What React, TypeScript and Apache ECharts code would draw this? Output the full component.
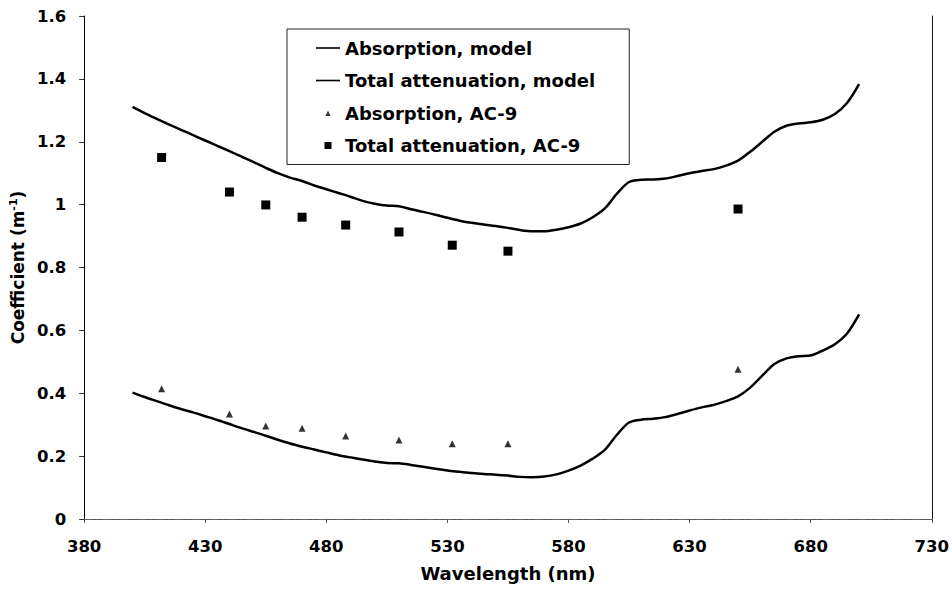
import React, { useEffect, useRef } from "react";
import * as echarts from "echarts";

const modelWavelengths = [
  400, 405, 410, 415, 420, 425, 430, 435, 440, 445, 450, 455, 460, 465, 470, 475,
  480, 485, 490, 495, 500, 505, 510, 515, 520, 525, 530, 535, 540, 545, 550, 555,
  560, 565, 570, 575, 580, 585, 590, 595, 600, 605, 610, 615, 620, 625, 630, 635,
  640, 645, 650, 655, 660, 665, 670, 675, 680, 685, 690, 695, 700,
];

const attenuationModel = [
  1.311, 1.291, 1.273, 1.255, 1.238, 1.221, 1.204, 1.187, 1.17, 1.153, 1.135, 1.117,
  1.1, 1.086, 1.075, 1.061, 1.049, 1.037, 1.025, 1.012, 1.003, 0.997, 0.995, 0.985,
  0.977, 0.968, 0.958, 0.949, 0.942, 0.937, 0.932, 0.926, 0.919, 0.915, 0.915, 0.92,
  0.928, 0.94, 0.96, 0.988, 1.035, 1.072, 1.079, 1.08, 1.083, 1.091, 1.1, 1.107,
  1.113, 1.124, 1.14, 1.168, 1.2, 1.232, 1.251, 1.258, 1.262, 1.27, 1.288, 1.323, 1.383,
];

const absorptionModel = [
  0.402, 0.388, 0.375, 0.362, 0.35, 0.339, 0.327, 0.315, 0.302, 0.289, 0.277, 0.265,
  0.252, 0.24, 0.23, 0.221, 0.212, 0.203, 0.196, 0.189, 0.183, 0.178, 0.177, 0.172,
  0.166, 0.16, 0.154, 0.15, 0.146, 0.143, 0.141, 0.138, 0.134, 0.133, 0.135, 0.142,
  0.154, 0.17, 0.192, 0.22, 0.268, 0.307, 0.316, 0.319, 0.324, 0.334, 0.345, 0.355,
  0.363, 0.375, 0.39, 0.418, 0.456, 0.493, 0.511, 0.518, 0.52, 0.536, 0.556, 0.59, 0.651,
];

const ac9Wavelengths = [412, 440, 455, 470, 488, 510, 532, 555, 650];
const absorptionAC9 = [0.414, 0.334, 0.296, 0.289, 0.264, 0.251, 0.239, 0.239, 0.476];
const attenuationAC9 = [1.15, 1.04, 0.999, 0.96, 0.935, 0.913, 0.871, 0.852, 0.986];

const xTicks = [380, 430, 480, 530, 580, 630, 680, 730];

const seriesNames = [
  "Absorption, model",
  "Total attenuation, model",
  "Absorption, AC-9",
  "Total attenuation, AC-9",
];

const FONT = "DejaVu Sans";

const LINE_ICON = "path://M0,0M24,8M0,3.2H24V4.8H0Z";
const TRIANGLE_ICON = "path://M0,0M8,8M1.4,6.9L4,1.8L6.6,6.9Z";
const SQUARE_ICON = "path://M0,0M8,8M0.5,0.5H7.5V7.5H0.5Z";

function zip(xs: number[], ys: number[]) {
  return xs.map((x, i) => [x, ys[i]]);
}

export default function App() {
  const ref = useRef<HTMLDivElement>(null);

  useEffect(() => {
    if (!ref.current) return;
    const chart = echarts.init(ref.current, undefined, { renderer: "svg" });
    const labelStyle = {
      color: "#000",
      fontFamily: FONT,
      fontWeight: "bold" as const,
      fontSize: 16.5,
    };
    chart.setOption({
      animation: false,
      backgroundColor: "#fff",
      grid: { left: 82, right: 19, top: 16, bottom: 71, containLabel: false },
      legend: {
        orient: "vertical",
        left: 287,
        top: 29,
        padding: [9, 34, 9, 29],
        borderColor: "#222",
        borderWidth: 1,
        backgroundColor: "#fff",
        itemWidth: 24,
        itemHeight: 8,
        itemGap: 12.5,
        symbolKeepAspect: true,
        textStyle: {
          color: "#000",
          fontFamily: FONT,
          fontWeight: "bold",
          fontSize: 18,
          lineHeight: 20,
        },
        data: [
          { name: seriesNames[0], icon: LINE_ICON, itemStyle: { color: "#000" } },
          { name: seriesNames[1], icon: LINE_ICON, itemStyle: { color: "#000" } },
          { name: seriesNames[2], icon: TRIANGLE_ICON, itemStyle: { color: "#000" } },
          { name: seriesNames[3], icon: SQUARE_ICON, itemStyle: { color: "#000" } },
        ],
      },
      xAxis: [
        {
          type: "value",
          min: 380,
          max: 730,
          name: "Wavelength (nm)",
          nameLocation: "middle",
          nameGap: 45,
          nameTextStyle: { ...labelStyle, fontSize: 18 },
          axisLine: { show: true, lineStyle: { color: "#555", width: 1 } },
          axisTick: {
            show: true,
            inside: false,
            length: 4,
            lineStyle: { color: "#555" },
            customValues: xTicks,
          },
          axisLabel: { ...labelStyle, margin: 19, customValues: xTicks },
          splitLine: { show: false },
        },
        {
          type: "value",
          position: "top",
          min: 380,
          max: 730,
          axisLine: { show: true, lineStyle: { color: "#666", width: 1, type: [8, 4, 2, 4] } },
          axisTick: { show: false },
          axisLabel: { show: false },
          splitLine: { show: false },
        },
      ],
      yAxis: [
        {
          type: "value",
          min: 0,
          max: 1.6,
          interval: 0.2,
          name: "Coefficient (m{sup|-1})",
          nameLocation: "middle",
          nameGap: 45,
          nameTextStyle: {
            ...labelStyle,
            fontSize: 17,
            rich: {
              sup: {
                color: "#000",
                fontFamily: FONT,
                fontWeight: "bold",
                fontSize: 11,
                verticalAlign: "top",
                padding: [0, 0, 8, 0],
              },
            },
          },
          axisLine: { show: true, lineStyle: { color: "#000", width: 1 } },
          axisTick: { show: true, inside: false, length: 5, lineStyle: { color: "#333" } },
          axisLabel: {
            ...labelStyle,
            margin: 18,
            formatter: (v: number) => String(parseFloat(v.toFixed(1))),
          },
          splitLine: { show: false },
        },
        {
          type: "value",
          position: "right",
          min: 0,
          max: 1.6,
          interval: 0.2,
          axisLine: { show: true, lineStyle: { color: "#111", width: 1 } },
          axisTick: { show: false },
          axisLabel: { show: false },
          splitLine: { show: false },
        },
      ],
      series: [
        {
          name: seriesNames[0],
          type: "line",
          xAxisIndex: 0,
          yAxisIndex: 0,
          data: zip(modelWavelengths, absorptionModel),
          symbol: "none",
          smooth: 0.3,
          lineStyle: { color: "#000", width: 2.5 },
          itemStyle: { color: "#000" },
        },
        {
          name: seriesNames[1],
          type: "line",
          xAxisIndex: 0,
          yAxisIndex: 0,
          data: zip(modelWavelengths, attenuationModel),
          symbol: "none",
          smooth: 0.3,
          lineStyle: { color: "#000", width: 2.5 },
          itemStyle: { color: "#000" },
        },
        {
          name: seriesNames[2],
          type: "scatter",
          xAxisIndex: 0,
          yAxisIndex: 0,
          data: zip(ac9Wavelengths, absorptionAC9),
          symbol: "triangle",
          symbolSize: 7,
          itemStyle: { color: "#000" },
        },
        {
          name: seriesNames[3],
          type: "scatter",
          xAxisIndex: 0,
          yAxisIndex: 0,
          data: zip(ac9Wavelengths, attenuationAC9),
          symbol: "rect",
          symbolSize: 9,
          itemStyle: { color: "#000", opacity: 1 },
        },
      ],
    });
    return () => chart.dispose();
  }, []);

  return (
    <div
      ref={ref}
      style={{ position: "absolute", left: 0, top: 0, width: 952, height: 590, background: "#fff" }}
    />
  );
}
